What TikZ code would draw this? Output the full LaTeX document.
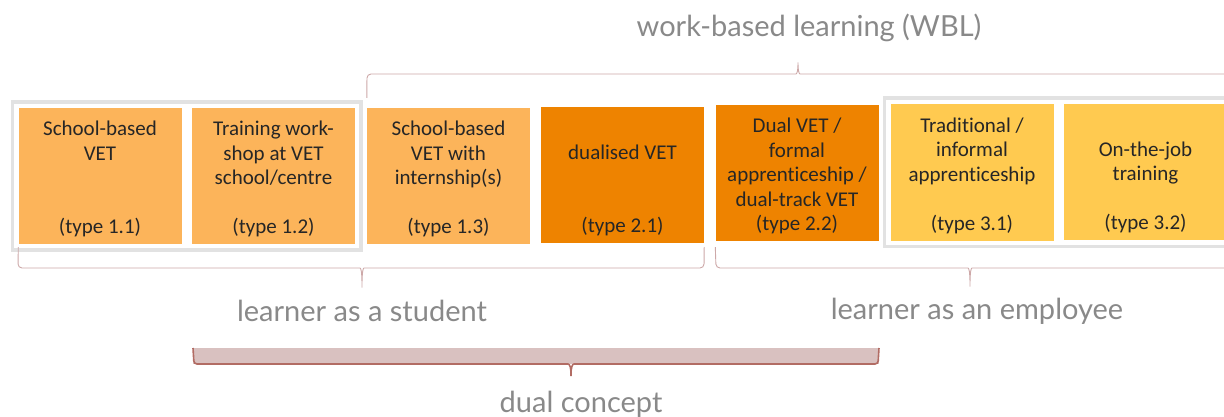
\documentclass[tikz,border=0pt]{standalone}
\usepackage{fontspec}
\setmainfont{Carlito}[Ligatures=NoCommon]
\newfontfamily\labelfont{Lato}
\usetikzlibrary{positioning,fit,calc}
\definecolor{vetlight}{RGB}{252,180,90}
\definecolor{vetdark}{RGB}{238,131,0}
\definecolor{vetyellow}{RGB}{255,202,80}
\definecolor{framegray}{RGB}{226,226,226}
\definecolor{bracepink}{RGB}{205,168,168}
\definecolor{dualfill}{RGB}{217,193,192}
\definecolor{dualline}{RGB}{178,108,100}
\definecolor{labelgray}{RGB}{137,137,137}

\begin{document}
\begin{tikzpicture}[x=1pt, y=-1pt,
    typebox/.style={rectangle, minimum width=163pt, minimum height=136pt, inner sep=0pt,
      align=center, font=\fontsize{21}{24.5}\selectfont, text=black!85,
      text height=120pt, text depth=5pt},
    grpframe/.style={draw=framegray, line width=3.5pt, inner sep=6pt},
    curly/.style={draw=bracepink, line width=0.9pt, rounded corners=4pt},
    grplabel/.style={font=\labelfont\fontsize{29}{33}\selectfont, text=labelgray}
  ]
    \clip (0,0) rectangle (1224,417);

    % the seven types
    \node[typebox, fill=vetlight]  (t11) at (100,176)   {School-based\\VET\\~\\~\\(type 1.1)};
    \node[typebox, fill=vetlight]  (t12) at (273.5,176) {Training work-\\shop at VET\\school/centre\\~\\(type 1.2)};
    \node[typebox, fill=vetlight]  (t13) at (448.5,176) {School-based\\VET with\\internship(s)\\~\\(type 1.3)};
    \node[typebox, fill=vetdark]   (t21) at (622.5,175) {~\\dualised VET\\~\\~\\(type 2.1)};
    \node[typebox, fill=vetdark]   (t22) at (797,173)   {Dual VET /\\formal\\apprenticeship /\\dual-track VET\\(type 2.2)};
    \node[typebox, fill=vetyellow] (t31) at (972,172.5) {Traditional /\\informal\\apprenticeship\\~\\(type 3.1)};
    \node[typebox, fill=vetyellow] (t32) at (1145.5,172){~\\On-the-job\\training\\~\\(type 3.2)};

    \node[grpframe, fit=(t11)(t12)] (schoolgrp) {};
    \node[grpframe, fit=(t31)(t32)] (workgrp) {};

    % labels
    \node[grplabel] (wbl)      at (809,28)  {work-based learning (WBL)};
    \node[grplabel] (student)  at (362,311) {learner as a student};
    \node[grplabel] (employee) at (977,311) {learner as an employee};
    \node[grplabel] (dual)     at (581,404) {dual concept};

    % braces
    \coordinate (wbltip) at (798,60);
    \coordinate (stutip) at (362,290);
    \coordinate (emptip) at (970,289);
    \coordinate (dualtip) at (571,378);

    \draw[curly] ($(t13.north west)+(0,-10)$) -- (367,74) -- ($(wbltip)+(-6,14)$)
      .. controls ($(wbltip)+(-1,14)$) and ($(wbltip)+(0,10)$) .. (wbltip)
      .. controls ($(wbltip)+(0,10)$) and ($(wbltip)+(1,14)$) .. ($(wbltip)+(6,14)$) -- (1240,74);
    \draw[curly] ($(t11.south west)+(0,3)$) -- (18,268) -- ($(stutip)+(-6,-22)$)
      .. controls ($(stutip)+(-1,-22)$) and ($(stutip)+(0,-18)$) .. (stutip)
      .. controls ($(stutip)+(0,-18)$) and ($(stutip)+(1,-22)$) .. ($(stutip)+(6,-22)$)
      -- (704,268) -- ($(t21.south east)+(0,4)$);
    \draw[curly] ($(t22.south west)+(0,6)$) -- (716,268) -- ($(emptip)+(-6,-21)$)
      .. controls ($(emptip)+(-1,-21)$) and ($(emptip)+(0,-17)$) .. (emptip)
      .. controls ($(emptip)+(0,-17)$) and ($(emptip)+(1,-21)$) .. ($(emptip)+(6,-21)$) -- (1240,268);

    % dual concept bar
    \fill[dualfill] (193,348) rectangle (879,364);
    \draw[dualline, line width=1.6pt, rounded corners=3pt] (193,348) -- (194,364) -- ($(dualtip)+(-6,-14)$)
      .. controls ($(dualtip)+(-1,-14)$) and ($(dualtip)+(0,-10)$) .. (dualtip)
      .. controls ($(dualtip)+(0,-10)$) and ($(dualtip)+(1,-14)$) .. ($(dualtip)+(6,-14)$)
      -- (878,364) -- (879,348);
  \end{tikzpicture}
\end{document}
